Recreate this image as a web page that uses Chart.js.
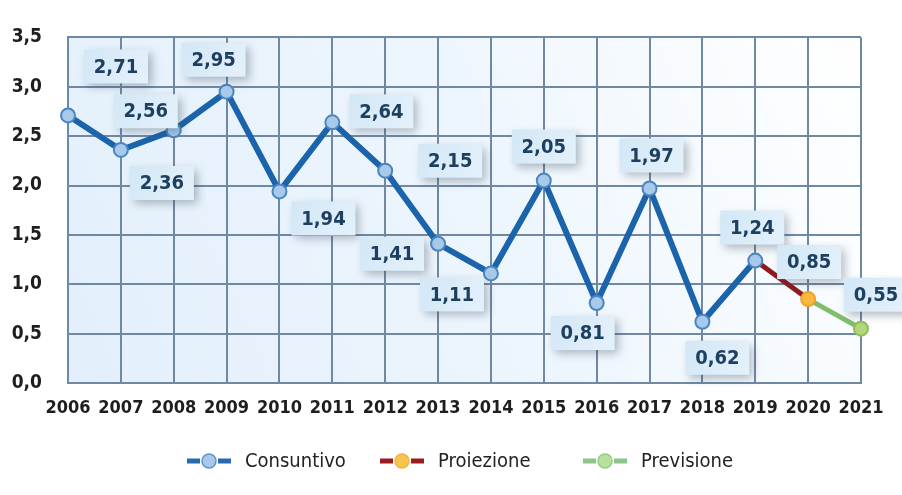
<!DOCTYPE html>
<html>
<head>
<meta charset="utf-8">
<script src="https://cdn.jsdelivr.net/npm/chart.js@4.4.1/dist/chart.umd.min.js"></script>
<style>
  html, body { margin: 0; padding: 0; background: #ffffff; }
  #wrap { width: 902px; height: 495px; position: relative; }
</style>
</head>
<body>
<div id="wrap"><canvas id="chart" width="902" height="495"></canvas></div>
<script>
//DATA
const years = ["2006", "2007", "2008", "2009", "2010", "2011", "2012", "2013",
  "2014", "2015", "2016", "2017", "2018", "2019", "2020", "2021"];
const consuntivo = [2.71, 2.36, 2.56, 2.95, 1.94, 2.64, 2.15, 1.41,
  1.11, 2.05, 0.81, 1.97, 0.62, 1.24, null, null];
const proiezione = [null, null, null, null, null, null, null, null,
  null, null, null, null, null, 1.24, 0.85, null];
const previsione = [null, null, null, null, null, null, null, null,
  null, null, null, null, null, null, 0.85, 0.55];
const yTicks = [0, 0.5, 1, 1.5, 2, 2.5, 3, 3.5];

// where each value box sits relative to its point (px)
const labelOffsets = [
  [48, -49], [41, 33], [-28, -19], [-13, -32], [44, 27], [49, -11], [65, -10], [-46, 10],
  [-39, 21], [0, -34], [-14, 30], [2, -33], [15, 36], [-3, -33], [1, -37], [15, -34]
];

const FONT = "'DejaVu Sans Condensed', 'Liberation Sans Narrow', Roboto, sans-serif";
const fmt = (v, d) => v.toFixed(d).replace(".", ",");

const BLUE = "#1b63ab";
const RED = "#8e1a1c";
const GREEN = "#80bd6c";
const GRID = "#7089a3";

//plot background
const bgPlugin = {
  id: "bg",
  beforeDraw(chart) {
    const { ctx, chartArea: a } = chart;
    const g = ctx.createLinearGradient(a.left, a.bottom, a.right, a.top);
    g.addColorStop(0, "#e2effb");
    g.addColorStop(0.55, "#eef6fd");
    g.addColorStop(1, "#ffffff");
    ctx.save();
    ctx.fillStyle = g;
    ctx.fillRect(a.left, a.top, a.right - a.left, a.bottom - a.top);
    ctx.restore();
  },
};

//value boxes
const labelPlugin = {
  id: "valueBoxes",
  afterDatasetsDraw(chart) {
    const { ctx } = chart;
    const xs = chart.scales.x;
    const ys = chart.scales.y;
    ctx.save();
    ctx.font = "bold 20px " + FONT;
    ctx.textAlign = "center";
    ctx.textBaseline = "middle";
    years.forEach((yr, i) => {
      let v = consuntivo[i];
      if (v === null) v = i === 14 ? proiezione[i] : previsione[i];
      const px = xs.getPixelForValue(i) + labelOffsets[i][0];
      const py = ys.getPixelForValue(v) + labelOffsets[i][1];
      const w = 64, h = 34;
      ctx.save();
      ctx.shadowColor = "rgba(40,60,80,0.35)";
      ctx.shadowBlur = 9;
      ctx.shadowOffsetX = 4;
      ctx.shadowOffsetY = 4;
      const g = ctx.createLinearGradient(px - w / 2, py - h / 2, px + w / 2, py + h / 2);
      g.addColorStop(0, "#d3e7f6");
      g.addColorStop(1, "#e4f1fb");
      ctx.fillStyle = g;
      ctx.fillRect(px - w / 2, py - h / 2, w, h);
      ctx.restore();
      ctx.fillStyle = "#1d3f60";
      ctx.fillText(fmt(v, 2), px, py + 1);
    });
    ctx.restore();
  },
};

//legend drawn under the axis
const legendItems = [
  { text: "Consuntivo", line: "#2a6aae", dot: "#a9c9ea", ring: "#5d93cc", x: 209 },
  { text: "Proiezione", line: "#9b1c1e", dot: "#f7c451", ring: "#f2b340", x: 402 },
  { text: "Previsione", line: "#8cc58a", dot: "#b9df9c", ring: "#95cc85", x: 605 },
];
const legendPlugin = {
  id: "customLegend",
  afterDraw(chart) {
    const { ctx } = chart;
    const y = 461;
    ctx.save();
    legendItems.forEach((it) => {
      ctx.strokeStyle = it.line;
      ctx.lineWidth = 5;
      ctx.beginPath();
      ctx.moveTo(it.x - 22, y);
      ctx.lineTo(it.x - 9, y);
      ctx.moveTo(it.x + 9, y);
      ctx.lineTo(it.x + 22, y);
      ctx.stroke();
      ctx.beginPath();
      ctx.arc(it.x, y, 7, 0, Math.PI * 2);
      ctx.fillStyle = it.dot;
      ctx.fill();
      ctx.lineWidth = 1.5;
      ctx.strokeStyle = it.ring;
      ctx.stroke();
      ctx.fillStyle = "#222";
      ctx.font = "20px " + FONT;
      ctx.textAlign = "left";
      ctx.textBaseline = "middle";
      ctx.fillText(it.text, it.x + 36, y + 1);
    });
    ctx.restore();
  },
};

const chartEl = document.getElementById("chart").getContext("2d");
new Chart(chartEl, {
  type: "line",
  data: {
    labels: years,
    datasets: [
      {
        label: "Previsione",
        data: previsione,
        borderColor: GREEN,
        borderWidth: 5,
        pointRadius: [0, 0, 0, 0, 0, 0, 0, 0, 0, 0, 0, 0, 0, 0, 0, 7],
        pointBackgroundColor: "#b3d77c",
        pointBorderColor: "#8fbf58",
        pointBorderWidth: 2,
        order: 3,
      },
      {
        label: "Proiezione",
        data: proiezione,
        borderColor: RED,
        borderWidth: 5,
        pointRadius: [0, 0, 0, 0, 0, 0, 0, 0, 0, 0, 0, 0, 0, 0, 7, 0],
        pointBackgroundColor: "#f7b93e",
        pointBorderColor: "#eea22c",
        pointBorderWidth: 2,
        order: 2,
      },
      {
        label: "Consuntivo",
        data: consuntivo,
        borderColor: BLUE,
        borderWidth: 6,
        pointRadius: 7,
        pointBackgroundColor: "#a7c9ea",
        pointBorderColor: "#4a86c3",
        pointBorderWidth: 2,
        order: 1,
      },
    ],
  },
  options: {
    responsive: false,
    animation: false,
    spanGaps: false,
    layout: { padding: { left: 0, right: 41, top: 22, bottom: 72 } },
    plugins: {
      legend: { display: false },
      tooltip: { enabled: false },
    },
    scales: {
      x: {
        offset: false,
        grid: { color: GRID, lineWidth: 2, drawTicks: false },
        border: { color: GRID, width: 2 },
        ticks: {
          color: "#1e1e1e",
          font: { family: FONT, size: 18, weight: "bold" },
          padding: 15,
          maxRotation: 0,
          autoSkip: false,
        },
        afterFit(scale) { scale.height = 40; },
      },
      y: {
        min: 0,
        max: 3.5,
        grid: { color: GRID, lineWidth: 2, drawTicks: false },
        border: { color: GRID, width: 2 },
        afterBuildTicks(scale) { scale.ticks = yTicks.map((v) => ({ value: v })); },
        ticks: {
          color: "#1e1e1e",
          font: { family: FONT, size: 19, weight: "bold" },
          padding: 26,
          callback: (v) => fmt(v, 1),
        },
        afterFit(scale) { scale.width = 68; },
      },
    },
  },
  plugins: [bgPlugin, labelPlugin, legendPlugin],
});
</script>
</body>
</html>
